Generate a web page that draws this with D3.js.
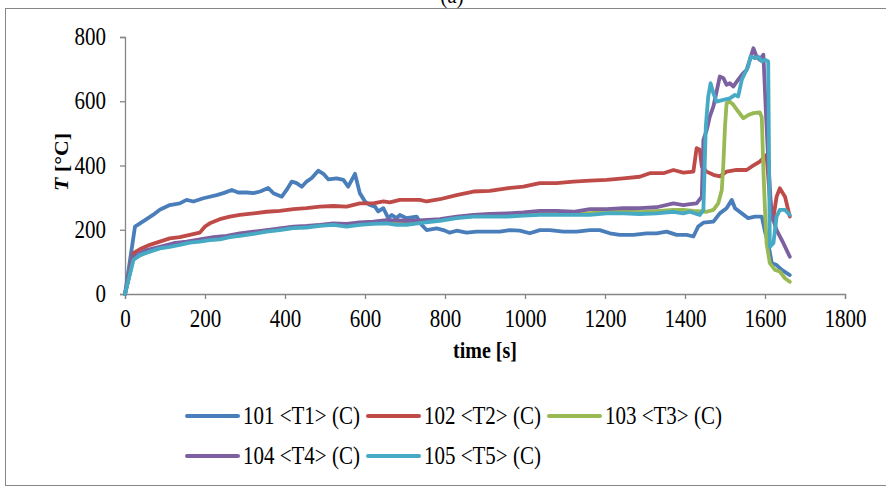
<!DOCTYPE html>
<html>
<head>
<meta charset="utf-8">
<script src="https://cdn.jsdelivr.net/npm/d3@7"></script>
<style>
  html, body { margin: 0; padding: 0; background: #fff; }
  svg { display: block; }
  svg text { font-family: "Liberation Serif", "Tinos", "Times New Roman", "DejaVu Serif", serif; }
</style>
</head>
<body>
<svg id="chart" width="886" height="487"></svg>
<script>
// Thermocouple readings, time [s] vs temperature [°C]
const seriesNames = ["101 <T1> (C)", "102 <T2> (C)", "103 <T3> (C)", "104 <T4> (C)", "105 <T5> (C)"];
const seriesColors = ["#4a7ebb", "#be4b48", "#98b954", "#7d60a0", "#46aac5"];

const t1Time = [0, 25, 50, 70, 87, 112, 137, 154, 171, 196, 229, 246, 267, 283, 304, 321, 338, 358, 371, 392, 404, 417, 429, 442, 454, 467, 483, 496, 508, 529, 546, 558, 575, 587, 600, 612, 625, 633, 646, 658, 667, 679, 687, 704, 729, 742, 754, 779, 796, 812, 829, 854, 879, 912, 937, 962, 987, 1012, 1037, 1062, 1096, 1129, 1162, 1187, 1212, 1237, 1271, 1304, 1329, 1354, 1379, 1404, 1421, 1433, 1446, 1471, 1487, 1504, 1517, 1525, 1542, 1558, 1575, 1592, 1600, 1608, 1617, 1629, 1642, 1662];
const t1Temp = [0, 210, 230, 246, 262, 277, 282, 293, 288, 298, 308, 314, 324, 316, 316, 314, 319, 330, 314, 303, 324, 350, 345, 334, 350, 361, 384, 374, 357, 360, 355, 334, 374, 314, 288, 277, 272, 257, 267, 236, 246, 236, 246, 236, 241, 215, 199, 204, 199, 191, 197, 191, 194, 194, 194, 199, 197, 189, 199, 199, 194, 194, 199, 199, 189, 184, 184, 189, 189, 194, 184, 184, 179, 210, 222, 225, 251, 267, 293, 267, 251, 236, 241, 241, 194, 158, 96, 90, 75, 59];

const t2Time = [0, 21, 37, 62, 87, 112, 137, 162, 187, 200, 212, 237, 262, 287, 321, 354, 387, 421, 454, 487, 521, 554, 587, 621, 646, 662, 687, 737, 754, 787, 829, 871, 912, 954, 996, 1037, 1079, 1121, 1162, 1204, 1246, 1287, 1312, 1346, 1371, 1396, 1421, 1429, 1437, 1442, 1454, 1471, 1487, 1504, 1529, 1554, 1567, 1587, 1604, 1612, 1620, 1629, 1637, 1650, 1662];
const t2Temp = [0, 127, 139, 153, 163, 173, 177, 184, 191, 210, 220, 233, 241, 246, 251, 256, 259, 264, 267, 272, 274, 272, 282, 282, 288, 285, 293, 293, 288, 295, 308, 319, 321, 329, 334, 345, 345, 350, 353, 355, 360, 365, 376, 376, 386, 378, 381, 454, 449, 397, 381, 371, 366, 381, 386, 386, 397, 412, 433, 300, 230, 303, 329, 303, 241];

const t3Time = [0, 21, 54, 87, 121, 154, 187, 221, 254, 287, 321, 354, 387, 421, 454, 487, 521, 554, 587, 621, 654, 704, 746, 787, 829, 871, 912, 954, 996, 1037, 1079, 1121, 1162, 1204, 1246, 1287, 1329, 1371, 1396, 1421, 1454, 1471, 1483, 1492, 1496, 1500, 1504, 1512, 1521, 1533, 1546, 1558, 1571, 1587, 1592, 1596, 1600, 1604, 1612, 1625, 1637, 1650, 1662];
const t3Temp = [0, 110, 130, 143, 152, 160, 166, 172, 178, 184, 190, 197, 202, 207, 210, 214, 217, 214, 219, 222, 224, 220, 225, 231, 238, 243, 244, 245, 247, 250, 250, 249, 252, 255, 256, 255, 258, 262, 262, 259, 256, 262, 282, 324, 407, 521, 594, 599, 589, 568, 547, 557, 563, 565, 550, 386, 262, 158, 96, 75, 70, 49, 38];

const t4Time = [0, 21, 54, 87, 121, 154, 187, 221, 254, 287, 321, 354, 387, 421, 454, 487, 521, 554, 587, 621, 654, 704, 729, 746, 787, 829, 871, 912, 954, 996, 1037, 1079, 1121, 1162, 1204, 1246, 1287, 1329, 1371, 1396, 1412, 1429, 1442, 1446, 1454, 1462, 1471, 1479, 1487, 1496, 1504, 1512, 1521, 1533, 1546, 1554, 1562, 1571, 1579, 1587, 1596, 1602, 1608, 1616, 1629, 1646, 1662];
const t4Temp = [0, 116, 137, 147, 158, 163, 170, 177, 181, 189, 194, 199, 204, 210, 212, 215, 220, 218, 223, 225, 230, 228, 228, 230, 233, 241, 246, 249, 251, 254, 259, 259, 256, 264, 264, 267, 267, 270, 282, 277, 280, 282, 303, 480, 509, 552, 584, 630, 677, 672, 651, 656, 646, 667, 688, 698, 729, 765, 739, 729, 745, 573, 420, 250, 199, 158, 116];

const t5Time = [0, 21, 37, 62, 87, 112, 137, 162, 187, 212, 237, 262, 287, 321, 354, 387, 421, 454, 487, 521, 554, 587, 621, 654, 679, 704, 746, 787, 829, 871, 912, 954, 996, 1037, 1079, 1121, 1162, 1204, 1246, 1287, 1329, 1371, 1396, 1412, 1437, 1446, 1452, 1458, 1464, 1471, 1479, 1496, 1512, 1525, 1533, 1542, 1550, 1558, 1564, 1575, 1583, 1592, 1600, 1608, 1612, 1621, 1629, 1637, 1650, 1662];
const t5Temp = [0, 106, 121, 132, 142, 147, 153, 160, 163, 168, 170, 177, 181, 187, 194, 199, 205, 207, 212, 215, 210, 215, 218, 220, 215, 215, 222, 228, 236, 241, 241, 241, 244, 246, 246, 246, 246, 251, 251, 249, 251, 256, 251, 256, 246, 262, 521, 614, 656, 625, 599, 604, 609, 620, 615, 667, 688, 708, 739, 734, 739, 724, 729, 724, 147, 158, 241, 262, 262, 246];

const xTicks = [0, 200, 400, 600, 800, 1000, 1200, 1400, 1600, 1800];
const yTicks = [0, 200, 400, 600, 800];

const seriesTimes = [t1Time, t2Time, t3Time, t4Time, t5Time];
const seriesTemps = [t1Temp, t2Temp, t3Temp, t4Temp, t5Temp];

const svg = d3.select("#chart");
const axisGrey = "#868686";
const tall = "scale(1,1.15)";   // glyphs are set slightly taller than wide

// outer frame of the chart area
svg.append("rect")
  .attr("x", 5.5).attr("y", 8.5)
  .attr("width", 886).attr("height", 477)
  .attr("fill", "none").attr("stroke", axisGrey).attr("stroke-width", 1);

// panel caption, partly clipped by the top edge
svg.append("text")
  .attr("transform", "translate(452,3) " + tall)
  .attr("text-anchor", "middle")
  .attr("font-size", 21)
  .text("(a)");

const x = d3.scaleLinear().domain([0, 1800]).range([125, 845]);
const y = d3.scaleLinear().domain([0, 800]).range([294, 37]);

const xAxis = svg.append("g")
  .attr("transform", `translate(0,${y(0)})`)
  .call(d3.axisBottom(x).tickValues(xTicks).tickSize(5).tickPadding(9).tickFormat(d3.format("d")));
const yAxis = svg.append("g")
  .attr("transform", `translate(${x(0)},0)`)
  .call(d3.axisLeft(y).tickValues(yTicks).tickSize(5).tickPadding(14).tickFormat(d3.format("d")));

[xAxis, yAxis].forEach(g => {
  g.attr("font-family", null).attr("font-size", null);
  g.select(".domain").attr("stroke", axisGrey).attr("stroke-width", 1.3);
  g.selectAll(".tick line").attr("stroke", axisGrey).attr("stroke-width", 1.3);
  g.selectAll(".tick text")
    .attr("fill", "#000")
    .attr("font-size", 21)
    .attr("transform", tall);
});

// axis titles
svg.append("text")
  .attr("transform", "translate(485,358) " + tall)
  .attr("text-anchor", "middle")
  .attr("font-size", 20)
  .attr("font-weight", "bold")
  .text("time [s]");

const yTitle = svg.append("text")
  .attr("transform", "translate(68,162) rotate(-90) scale(1.15,1)")
  .attr("text-anchor", "middle")
  .attr("font-size", 19)
  .attr("font-weight", "bold");
yTitle.append("tspan").attr("font-style", "italic").text("T");
yTitle.append("tspan").text(" [°C]");

// temperature traces
const line = d3.line()
  .x(d => x(d[0]))
  .y(d => y(d[1]));

seriesNames.forEach((name, i) => {
  const pts = seriesTimes[i].map((t, k) => [t, seriesTemps[i][k]]);
  svg.append("path")
    .datum(pts)
    .attr("d", line)
    .attr("fill", "none")
    .attr("stroke", seriesColors[i])
    .attr("stroke-width", 3.8)
    .attr("stroke-linejoin", "round")
    .attr("stroke-linecap", "round");
});

// legend, two rows
const legendPos = [[185, 416], [366, 416], [547, 416], [185, 456], [366, 456]];
seriesNames.forEach((name, i) => {
  const [lx, ly] = legendPos[i];
  const g = svg.append("g").attr("transform", `translate(${lx},${ly})`);
  g.append("line")
    .attr("x1", 2).attr("x2", 53)
    .attr("y1", 0).attr("y2", 0)
    .attr("stroke", seriesColors[i])
    .attr("stroke-width", 4)
    .attr("stroke-linecap", "round");
  g.append("text")
    .attr("transform", `translate(58,0) ${tall}`)
    .attr("dy", "0.33em")
    .attr("font-size", 21)
    .text(name);
});
</script>
</body>
</html>
